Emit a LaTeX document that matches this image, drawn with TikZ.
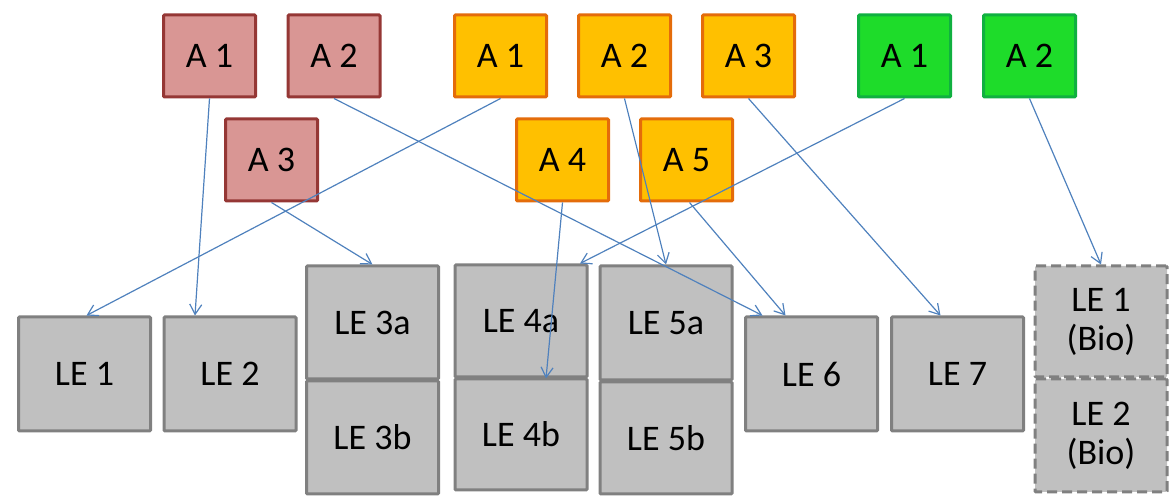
\documentclass[tikz,border=0pt]{standalone}
\usepackage{fontspec}
\setmainfont{Carlito}
\usetikzlibrary{arrows.meta,calc}
\definecolor{pinkfill}{HTML}{D99694}
\definecolor{pinkline}{HTML}{953735}
\definecolor{orfill}{HTML}{FFC000}
\definecolor{orline}{HTML}{E46C0A}
\definecolor{grfill}{HTML}{1EDC2A}
\definecolor{grline}{HTML}{10B040}
\definecolor{lefill}{HTML}{C0C0C0}
\definecolor{leline}{HTML}{808080}
\definecolor{arrowblue}{HTML}{4F81BD}
\begin{document}
\begin{tikzpicture}[x=0.5pt,y=-0.5pt,
  every node/.style={font=\fontsize{18}{19.5}\selectfont, align=center, inner sep=0pt},
  abox/.style={draw, line width=1.5pt, minimum width=46pt, minimum height=41pt, rounded corners=0.5pt},
  pinkbox/.style={abox, fill=pinkfill, draw=pinkline},
  orbox/.style={abox, fill=orfill, draw=orline},
  grbox/.style={abox, fill=grfill, draw=grline},
  lebox/.style={draw=leline, fill=lefill, line width=1.5pt, minimum width=66pt, rounded corners=0.5pt},
  biobox/.style={lebox, dashed, dash pattern=on 5pt off 2.5pt},
  conn/.style={draw=arrowblue, line width=0.6pt, -{Straight Barb[length=5pt,width=6pt]}}
]
\useasboundingbox (0,0) rectangle (1169,502);
% top boxes
\node[pinkbox] (pA1) at (209.5,56) {A 1};
\node[pinkbox] (pA2) at (334,56) {A 2};
\node[pinkbox] (pA3) at (271.5,160) {A 3};
\node[orbox] (oA1) at (500.5,56) {A 1};
\node[orbox] (oA2) at (624.5,56) {A 2};
\node[orbox] (oA3) at (748.5,56) {A 3};
\node[orbox] (oA4) at (562.5,160) {A 4};
\node[orbox] (oA5) at (686.5,160) {A 5};
\node[grbox] (gA1) at (904.5,56) {A 1};
\node[grbox] (gA2) at (1029.5,56) {A 2};
% bottom boxes
\node[lebox, minimum height=57pt] (LE1) at (84.5,374) {LE 1};
\node[lebox, minimum height=57pt] (LE2) at (230,374) {LE 2};
\node[lebox, minimum height=56.5pt] (LE3a) at (372.5,322.5) {LE 3a};
\node[lebox, minimum height=56.5pt] (LE3b) at (372.5,437.5) {LE 3b};
\node[lebox, minimum height=56pt] (LE4a) at (521,321) {LE 4a};
\node[lebox, minimum height=55.5pt] (LE4b) at (521,434.5) {LE 4b};
\node[lebox, minimum height=57pt] (LE5a) at (666,323) {LE 5a};
\node[lebox, minimum height=56pt] (LE5b) at (666,438) {LE 5b};
\node[lebox, minimum height=57pt] (LE6) at (811.5,374) {LE 6};
\node[lebox, minimum height=57pt] (LE7) at (957.5,374) {LE 7};
\node[biobox, minimum height=55.5pt] (Bio1) at (1101,321.5) {LE 1\\(Bio)};
\node[biobox, minimum height=56.5pt] (Bio2) at (1101,435.5) {LE 2\\(Bio)};
% connectors
\draw[conn] (pA1.south) -- ($(LE2.north)+(-35,0)$);
\draw[conn] (pA2.south) -- ($(LE6.north)+(-49,0)$);
\draw[conn] (pA3.south) -- (LE3a.north);
\draw[conn] (oA1.south) -- ($(LE1.north)+(2,0)$);
\draw[conn] (oA2.south) -- (LE5a.north);
\draw[conn] (oA3.south) -- ($(LE7.north)+(-17,0)$);
\draw[conn] (oA4.south) -- ($(LE4a.south)+(25,0)$);
\draw[conn] ($(oA5.south)+(3,0)$) -- ($(LE6.north)+(-26,0)$);
\draw[conn] (gA1.south) -- ($(LE4a.north)+(59,0)$);
\draw[conn] (gA2.south) -- (Bio1.north);
\end{tikzpicture}
\end{document}
